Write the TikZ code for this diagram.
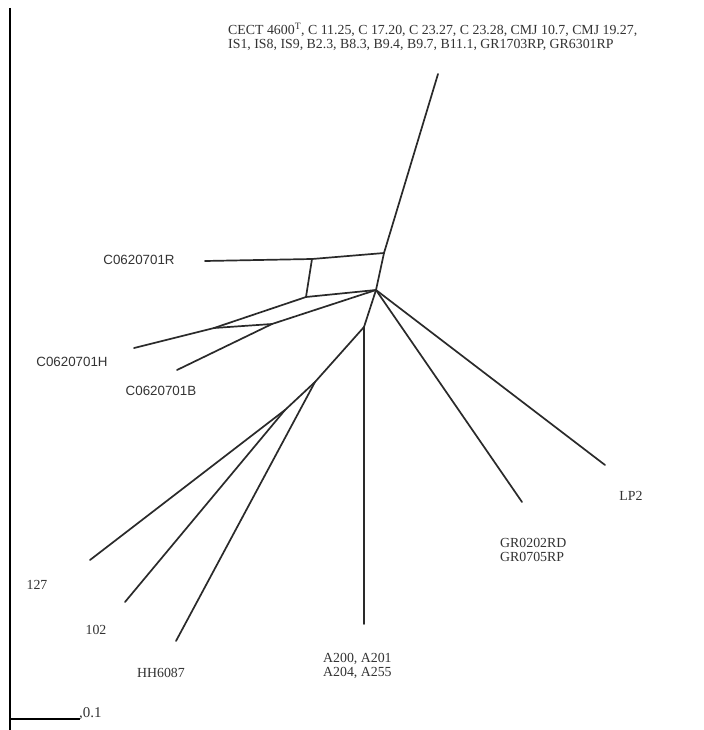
\documentclass[tikz,border=0pt]{standalone}
\usepackage{fontspec}
\setmainfont{Liberation Serif}
\newfontfamily\arialfont{Liberation Sans}
\usetikzlibrary{calc}
\definecolor{edgec}{HTML}{2A2A2A}
\definecolor{txtc}{HTML}{333333}
\tikzset{
  edge/.style={draw=edgec, line width=1.7bp, line cap=round, line join=round},
  serlbl/.style={text=txtc, font=\fontsize{13.9}{14.5}\selectfont, inner sep=0pt, align=left},
  sanslbl/.style={text=txtc, font=\arialfont\fontsize{13.4}{15}\selectfont, inner sep=0pt},
  axisline/.style={draw=black, line width=2.6bp}
}
\begin{document}
\begin{tikzpicture}[x=1bp,y=-1bp]
\useasboundingbox[fill=white] (0,0) rectangle (704,730);
% split network vertices
\coordinate (hub) at (376,290);
\coordinate (top) at (438,74);
\coordinate (j1) at (384,253);
\coordinate (r1) at (312,259);
\coordinate (rEnd) at (205,261);
\coordinate (h1) at (306,297);
\coordinate (x1) at (214,328);
\coordinate (x2) at (272,324);
\coordinate (hEnd) at (134,348);
\coordinate (bEnd) at (177,370);
\coordinate (f1) at (364,327);
\coordinate (aEnd) at (364,624);
\coordinate (f2) at (315,382);
\coordinate (f3) at (285,410);
\coordinate (e127) at (90,560);
\coordinate (e102) at (125,602);
\coordinate (eHH) at (176,641);
\coordinate (eGR) at (522,502);
\coordinate (eLP) at (605,465);
% edges
\draw[edge] (top) -- (j1);
\draw[edge] (j1) -- (hub);
\draw[edge] (j1) -- (r1);
\draw[edge] (r1) -- (rEnd);
\draw[edge] (r1) -- (h1);
\draw[edge] (h1) -- (hub);
\draw[edge] (h1) -- (x1);
\draw[edge] (x1) -- (hEnd);
\draw[edge] (hub) -- (x2);
\draw[edge] (x2) -- (bEnd);
\draw[edge] (x1) -- (x2);
\draw[edge] (hub) -- (f1);
\draw[edge] (f1) -- (aEnd);
\draw[edge] (f1) -- (f2);
\draw[edge] (f2) -- (eHH);
\draw[edge] (f2) -- (f3);
\draw[edge] (f3) -- (e127);
\draw[edge] (f3) -- (e102);
\draw[edge] (hub) -- (eGR);
\draw[edge] (hub) -- (eLP);
% labels
\node[serlbl, anchor=west] (lblTop) at (228,37) {CECT 4600\textsuperscript{T}, C 11.25, C 17.20, C 23.27, C 23.28, CMJ 10.7, CMJ 19.27,\\IS1, IS8, IS9, B2.3, B8.3, B9.4, B9.7, B11.1, GR1703RP, GR6301RP};
\node[sanslbl] (lblR) at (139,260) {C0620701R};
\node[sanslbl] (lblH) at (72,362) {C0620701H};
\node[sanslbl] (lblB) at (161,391) {C0620701B};
\node[serlbl] (lbl127) at (37,585) {127};
\node[serlbl] (lbl102) at (96,630) {102};
\node[serlbl] (lblHH) at (161,673) {HH6087};
\node[serlbl, anchor=west] (lblA) at (323,666) {A200, A201\\A204, A255};
\node[serlbl, anchor=west] (lblGR) at (500,550) {GR0202RD\\GR0705RP};
\node[serlbl] (lblLP) at (631,496) {LP2};
% axis and scale
\coordinate (axTop) at (10,8);
\coordinate (axBot) at (10,730);
\coordinate (sb0) at (10,719);
\coordinate (sb1) at (80,719);
\draw[axisline] (axTop) -- (axBot);
\draw[draw=black, line width=1.3bp] (sb0) -- (sb1);
\node[serlbl, anchor=west, font=\fontsize{15}{16}\selectfont] (lblScale) at (79,714) {,0.1};
\end{tikzpicture}
\end{document}
